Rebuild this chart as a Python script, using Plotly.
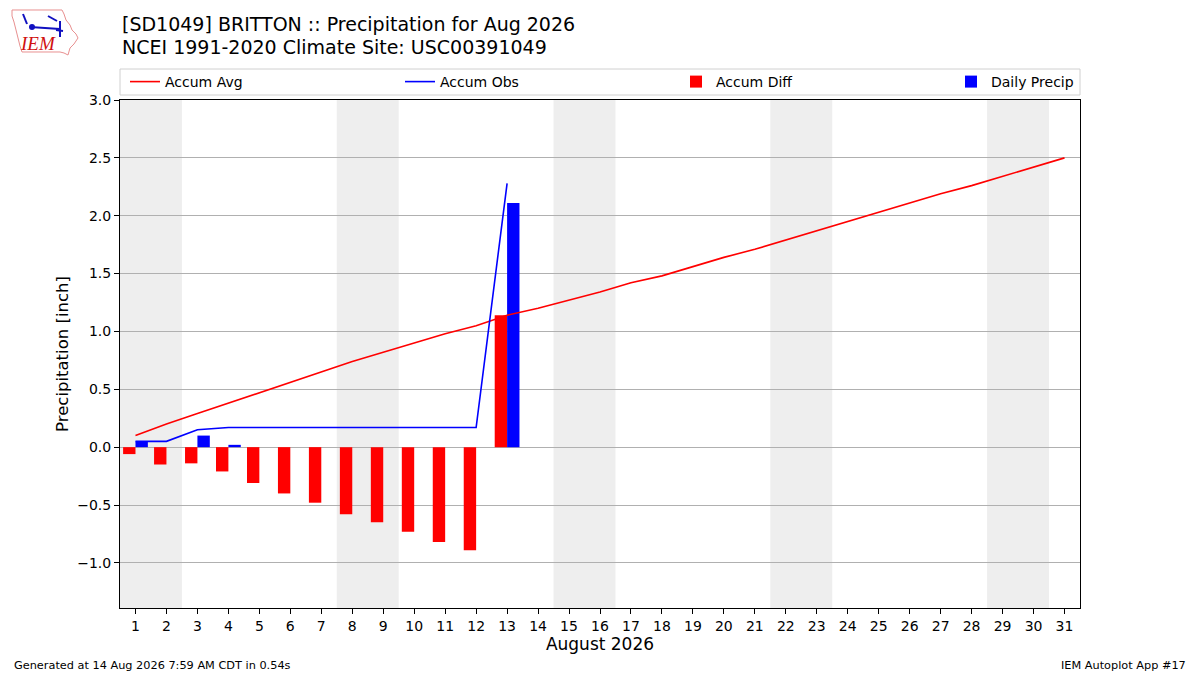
import datetime
import plotly.graph_objects as go

# Daily values for August 2026
days = list(range(1, 32))
accum_avg = [0.10, 0.20, 0.29, 0.38, 0.47, 0.56, 0.65, 0.74, 0.82, 0.90,
             0.98, 1.05, 1.14, 1.20, 1.27, 1.34, 1.42, 1.48, 1.56, 1.64,
             1.71, 1.79, 1.87, 1.95, 2.03, 2.11, 2.19, 2.26, 2.34, 2.42, 2.50]
obs_days = list(range(1, 14))
accum_obs = [0.05, 0.05, 0.15, 0.17, 0.17, 0.17, 0.17, 0.17, 0.17, 0.17,
             0.17, 0.17, 2.28]
accum_diff = [-0.06, -0.15, -0.14, -0.21, -0.31, -0.40, -0.48, -0.58, -0.65,
              -0.73, -0.82, -0.89, 1.14]
daily_precip = [0.05, 0.0, 0.10, 0.02, 0.0, 0.0, 0.0, 0.0, 0.0, 0.0,
                0.0, 0.0, 2.11]

W, H = 1200, 675
L, R, T, B = 120, 120, 100, 67


def px(x):
    return (x - L) / (W - L - R)


def py(y):
    return (H - B - y) / (H - T - B)


fig = go.Figure()

fig.add_trace(go.Bar(x=obs_days, y=accum_diff, width=0.4, offset=-0.4,
                     marker=dict(color="red", line=dict(width=0)),
                     name="Accum Diff", legend="legend3"))
fig.add_trace(go.Bar(x=obs_days, y=daily_precip, width=0.4, offset=0,
                     marker=dict(color="blue", line=dict(width=0)),
                     name="Daily Precip", legend="legend4"))
fig.add_trace(go.Scatter(x=days, y=accum_avg, mode="lines",
                         line=dict(color="red", width=1.6),
                         name="Accum Avg", legend="legend"))
fig.add_trace(go.Scatter(x=obs_days, y=accum_obs, mode="lines",
                         line=dict(color="blue", width=1.6),
                         name="Accum Obs", legend="legend2"))

# weekend shading, one band per Sat/Sun run
shapes = []
weekend = [d for d in days if datetime.date(2026, 8, d).weekday() >= 5]
runs = []
for d in weekend:
    if runs and d == runs[-1][1] + 1:
        runs[-1][1] = d
    else:
        runs.append([d, d])
for a, b in runs:
    shapes.append(dict(type="rect", xref="x", yref="paper",
                       x0=a - 0.5, x1=b + 0.5, y0=0, y1=1,
                       fillcolor="#eeeeee", line=dict(width=0),
                       layer="below"))

# legend frame
shapes.append(dict(type="rect", xref="paper", yref="paper",
                   x0=0, x1=1, y0=py(95), y1=py(69),
                   line=dict(color="#d0d0d0", width=1), fillcolor="rgba(0,0,0,0)"))

# rough IEM logo
outline = [(12, 10), (62, 10), (64, 14), (66, 20), (70, 25), (72, 30),
           (76, 34), (78, 38), (74, 44), (70, 48), (68, 55), (64, 53),
           (60, 52), (22, 52), (20, 46), (18, 38), (16, 30), (14, 22), (12, 16)]
path = "M " + " L ".join(f"{px(a):.5f},{py(b):.5f}" for a, b in outline) + " Z"
shapes.append(dict(type="path", xref="paper", yref="paper", path=path,
                   line=dict(color="#e89090", width=1)))
for (a0, b0, a1, b1) in [(30, 27, 60, 29), (60, 21, 60, 37), (48, 16, 57, 21),
                         (23, 14, 27, 24), (56, 30, 63, 31)]:
    shapes.append(dict(type="line", xref="paper", yref="paper",
                       x0=px(a0), y0=py(b0), x1=px(a1), y1=py(b1),
                       line=dict(color="#1010c0", width=2)))
shapes.append(dict(type="circle", xref="paper", yref="paper",
                   x0=px(29), x1=px(35), y0=py(30), y1=py(24),
                   fillcolor="#1010c0", line=dict(width=0)))

annotations = [
    dict(text="[SD1049] BRITTON :: Precipitation for Aug 2026",
         x=px(120), y=py(24), xref="paper", yref="paper",
         xanchor="left", yanchor="middle", showarrow=False,
         font=dict(size=19, color="black")),
    dict(text="NCEI 1991-2020 Climate Site: USC00391049",
         x=px(120), y=py(47), xref="paper", yref="paper",
         xanchor="left", yanchor="middle", showarrow=False,
         font=dict(size=19, color="black")),
    dict(text="Generated at 14 Aug 2026 7:59 AM CDT in 0.54s",
         x=px(12), y=py(665), xref="paper", yref="paper",
         xanchor="left", yanchor="middle", showarrow=False,
         font=dict(size=11.3, color="black")),
    dict(text="IEM Autoplot App #17",
         x=px(1188), y=py(665), xref="paper", yref="paper",
         xanchor="right", yanchor="middle", showarrow=False,
         font=dict(size=11.3, color="black")),
    dict(text="<i>IEM</i>",
         x=px(38), y=py(44), xref="paper", yref="paper",
         xanchor="center", yanchor="middle", showarrow=False,
         font=dict(size=19, color="#d01010", family="Liberation Serif")),
]

leg = dict(orientation="h", xanchor="left", yanchor="middle", y=py(82),
           bgcolor="rgba(0,0,0,0)", font=dict(size=14))

fig.update_layout(
    width=W, height=H,
    margin=dict(l=L, r=R, t=T, b=B),
    paper_bgcolor="white", plot_bgcolor="white",
    font=dict(family="DejaVu Sans", color="black", size=14),
    barmode="overlay",
    showlegend=True,
    shapes=shapes,
    annotations=annotations,
    legend=dict(leg, x=px(125)),
    legend2=dict(leg, x=px(400)),
    legend3=dict(leg, x=px(676)),
    legend4=dict(leg, x=px(951)),
)

fig.update_xaxes(range=[0.5, 31.5], tickvals=days, ticks="outside",
                 ticklen=5, tickcolor="black", showgrid=False,
                 showline=True, linecolor="black", linewidth=1, mirror=True,
                 zeroline=False, tickfont=dict(size=14),
                 title=dict(text="August 2026", font=dict(size=17), standoff=5))
fig.update_yaxes(range=[-1.39, 3.0], tickvals=[-1.0, -0.5, 0, 0.5, 1.0, 1.5, 2.0, 2.5, 3.0],
                 tickformat=".1f", ticks="outside", ticklen=5, tickcolor="black",
                 showgrid=True, gridcolor="#b0b0b0", gridwidth=1,
                 showline=True, linecolor="black", linewidth=1, mirror=True,
                 zeroline=False, tickfont=dict(size=14),
                 title=dict(text="Precipitation [inch]", font=dict(size=16.5), standoff=4))

fig.write_html("out.html", config={"displayModeBar": False},
               post_script="document.body.style.margin='0';")
